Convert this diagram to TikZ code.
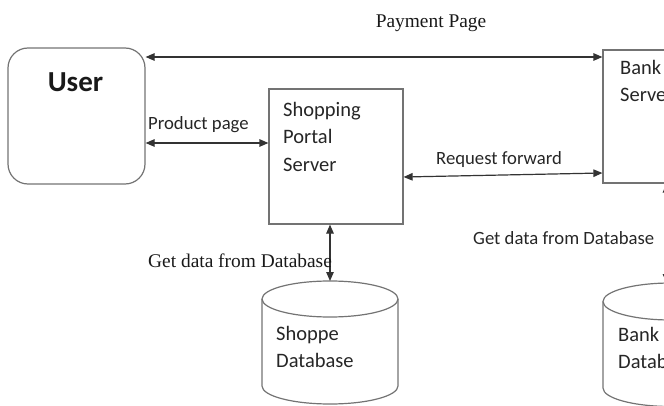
\documentclass[tikz,border=0pt]{standalone}
\usepackage{fontspec}
\setmainfont{Liberation Serif}
\newfontfamily\carlitofam{Carlito}
\usetikzlibrary{arrows.meta}
\begin{document}
\begin{tikzpicture}[x=1pt,y=1pt,
  box/.style={draw=black!55, line width=1.2pt},
  conn/.style={draw=black!80, line width=1.2pt, {Triangle[length=9pt,width=7.5pt]}-{Triangle[length=9pt,width=7.5pt]}},
  boxtxt/.style={font=\carlitofam\fontsize{20.5}{27.5}\selectfont, text=black!85, align=left, inner sep=0pt, anchor=north west},
  lblsans/.style={font=\carlitofam\fontsize{18.7}{22}\selectfont, text=black!85, inner sep=0pt, anchor=west},
  lblserif/.style={font=\fontsize{19.4}{22}\selectfont, text=black!90, inner sep=0pt, anchor=west}]
\useasboundingbox (0,0) rectangle (664,405);
\clip (0,0) rectangle (664,405);
% boxes
\node[box, rounded corners=20pt, minimum width=137pt, minimum height=136pt, inner sep=0pt] (user) at (76.5,289) {};
\node[font=\carlitofam\bfseries\fontsize{29}{32}\selectfont, text=black!90, inner sep=0pt] (usert) at (75.5,323) {User};
\node[box, minimum width=134pt, minimum height=135pt, inner sep=0pt] (shop) at (336,248.5) {};
\node[boxtxt] (shopt) at (283,303) {Shopping\\Portal\\Server};
\node[box, minimum width=134pt, minimum height=133pt, inner sep=0pt] (bank) at (670,288.5) {};
\node[boxtxt] (bankt) at (620,345) {Bank\\Server};
% databases
\draw[box] (262,106) -- (262,19) arc[start angle=180,end angle=360,x radius=68,y radius=18] -- (398,106);
\draw[box] (330,106) ellipse[x radius=68,y radius=18];
\coordinate (shopdb) at (330,124);
\node[boxtxt] (shopdbt) at (276,79) {Shoppe\\Database};
\draw[box] (603,103.5) -- (603,17) arc[start angle=180,end angle=360,x radius=68,y radius=18.5] -- (739,103.5);
\draw[box] (671,103.5) ellipse[x radius=68,y radius=18.5];
\coordinate (bankdb) at (666.5,122);
\node[boxtxt] (bankdbt) at (618,78) {Bank\\Database};
% connectors
\draw[conn] (user.east |- 0,348) -- (bank.west |- 0,348);
\draw[conn] (user.east |- 0,262) -- (shop.west |- 0,262);
\draw[conn] (shop.east |- 0,228) -- (bank.west |- 0,232);
\draw[conn] (shop.south -| 330,0) -- (shopdb);
\draw[conn] (bank.south -| 666.5,0) -- (bankdb);
% labels
\node[lblserif, anchor=center] (lpay) at (431,382) {Payment Page};
\node[lblsans] (lprod) at (148,280) {Product page};
\node[lblsans] (lreq) at (436,245) {Request forward};
\node[lblserif] (lget1) at (148,144) {Get data from Database};
\node[lblsans] (lget2) at (473,167) {Get data from Database};
\end{tikzpicture}
\end{document}
